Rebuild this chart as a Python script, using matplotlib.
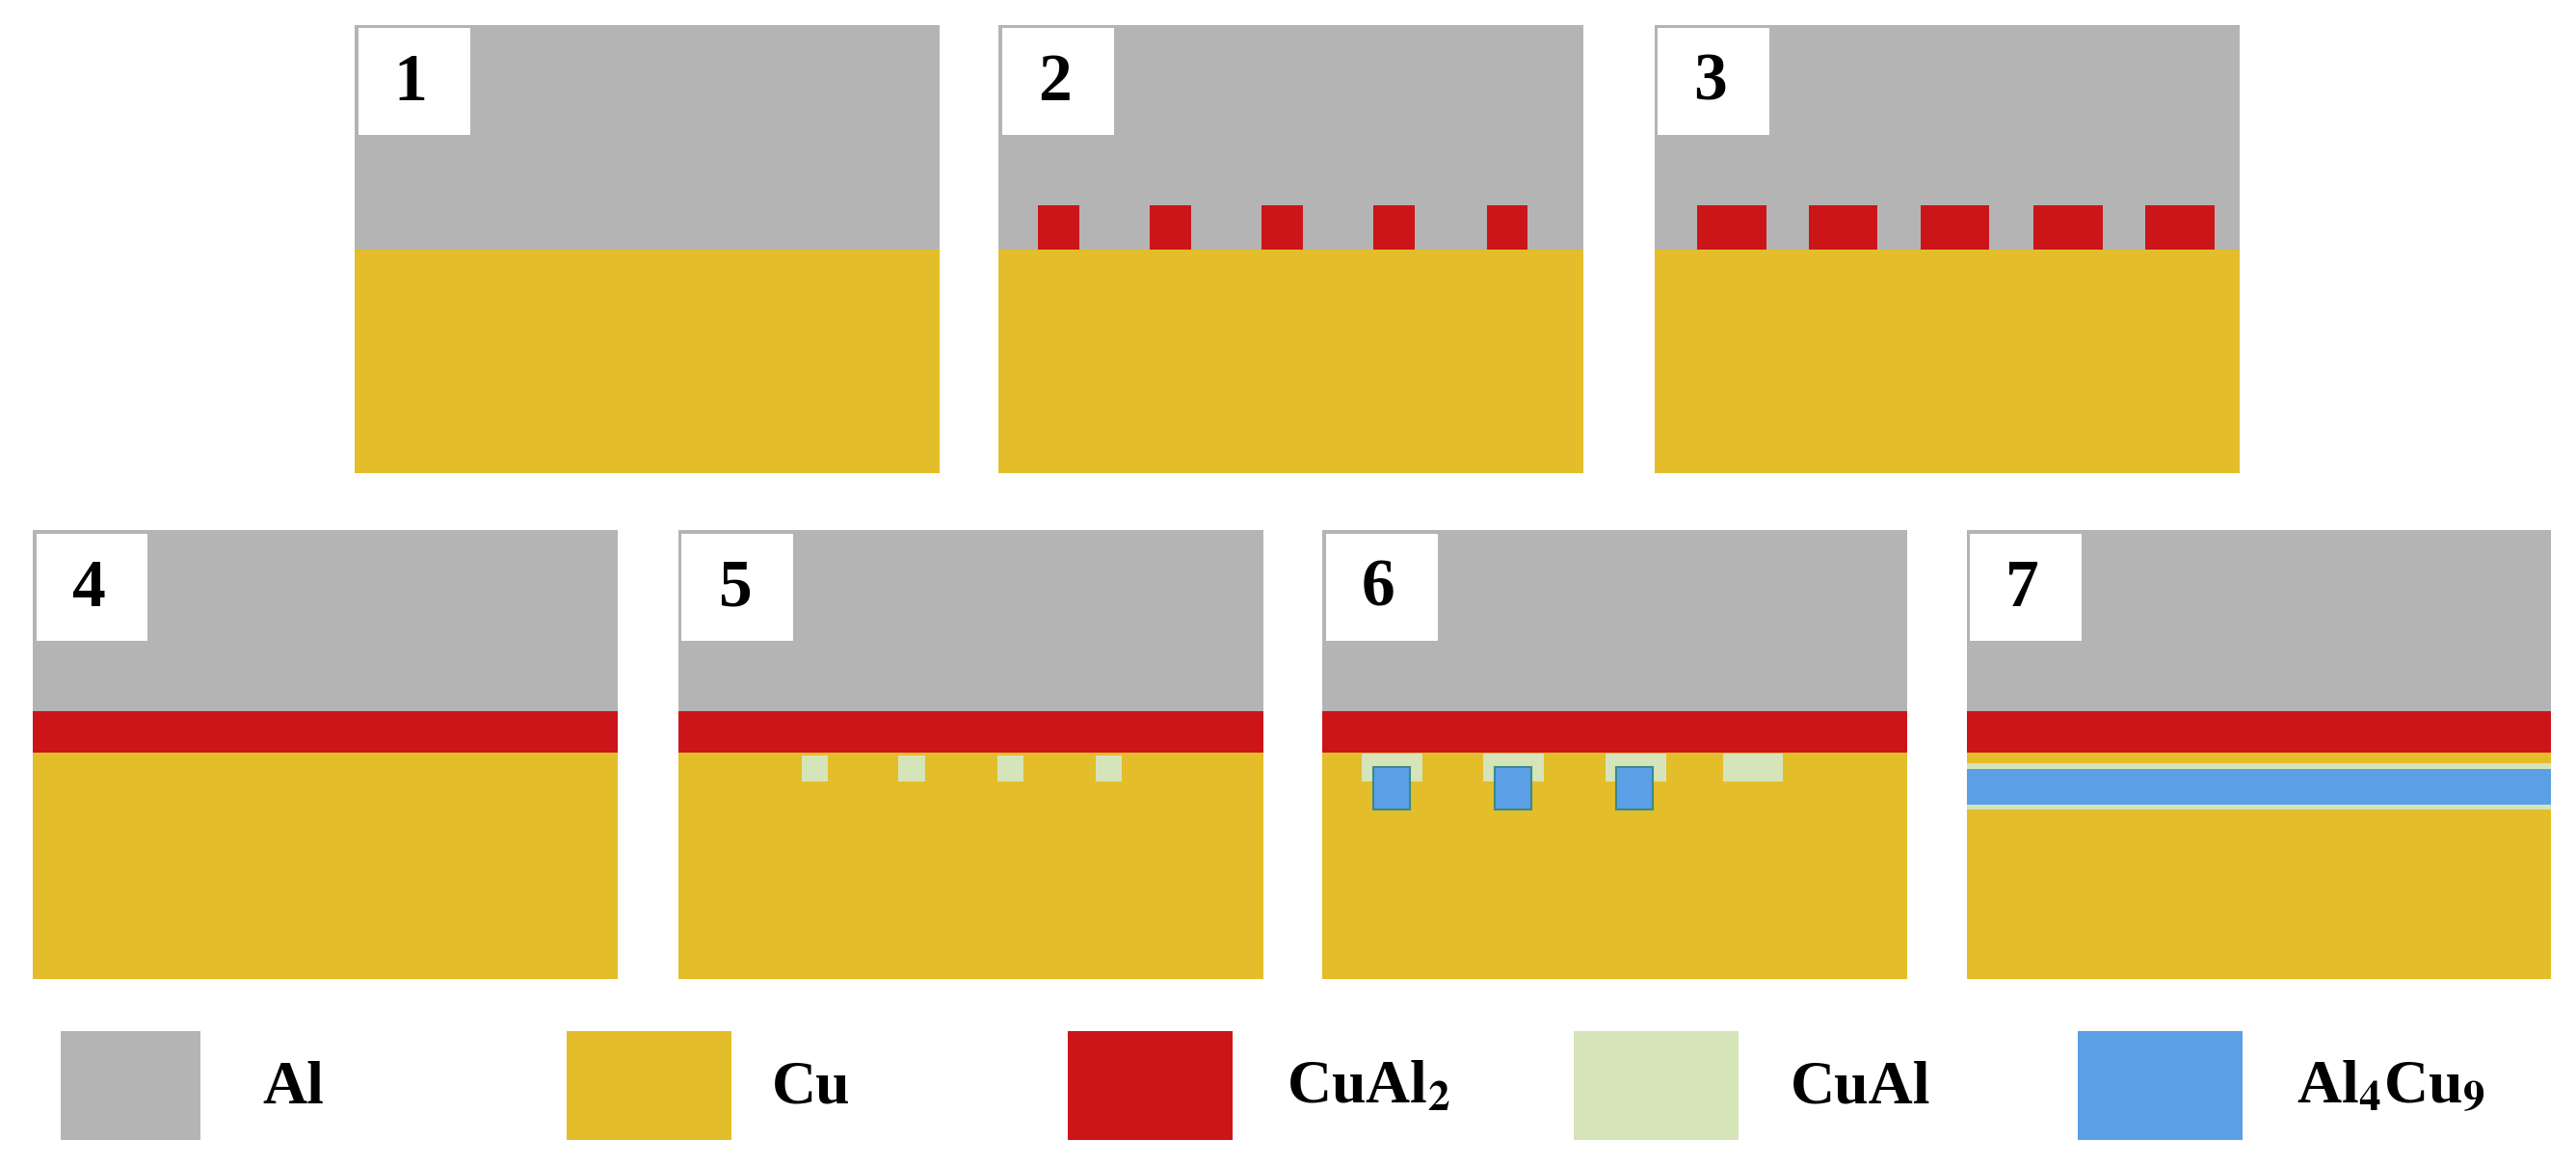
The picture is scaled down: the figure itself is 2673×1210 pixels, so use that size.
import matplotlib.pyplot as plt
from matplotlib.patches import Rectangle

plt.rcParams['font.family'] = ['Liberation Serif', 'DejaVu Serif']
plt.rcParams['mathtext.fontset'] = 'stix'

AL = '#b4b4b4'
CU = '#e4bd2a'
CUAL2 = '#cc1518'
CUAL = '#d6e4ba'
AL4CU9 = '#5b9fe6'

# panel layout (image units, y downwards)
panel_ids = ['1', '2', '3', '4', '5', '6', '7']
panel_x = [216, 608, 1007, 20, 413, 805, 1197]
panel_top = [15, 15, 15, 323, 323, 323, 323]
panel_w = 356
panel_h = 273
interface_y = [152, 152, 152, 458, 458, 458, 458]

# CuAl2 islands in panels 2 and 3
p2_islands = [632, 700, 768, 836, 905]
p3_islands = [1033, 1101, 1169, 1238, 1306]
# CuAl in panel 5
p5_cual = [488, 547, 607, 667]
# CuAl / Al4Cu9 in panel 6
p6_cual = [829, 903, 977]
p6_blue = [836, 910, 984]

legend_names = ['Al', 'Cu', r'CuAl$_\mathbf{2}$', 'CuAl', r'Al$_\mathbf{4}$Cu$_\mathbf{9}$']
legend_colors = [AL, CU, CUAL2, CUAL, AL4CU9]
legend_x = [37, 345, 650, 958, 1265]
legend_text_x = [160, 470, 783, 1090, 1398]

fig = plt.figure(figsize=(26.73, 12.10), dpi=100)
ax = fig.add_axes([0, 0, 1, 1])
ax.set_xlim(0, 1568)
ax.set_ylim(710, 0)
ax.axis('off')


def box(x0, y0, x1, y1, c, **kw):
    ax.add_patch(Rectangle((x0, y0), x1 - x0, y1 - y0, facecolor=c, edgecolor='none', **kw))


for i, pid in enumerate(panel_ids):
    x0, y0, yi = panel_x[i], panel_top[i], interface_y[i]
    x1, y1 = x0 + panel_w, y0 + panel_h
    box(x0, y0, x1, yi, AL)
    box(x0, yi, x1, y1, CU)
    if i >= 3:
        box(x0, 433, x1, yi, CUAL2)
    box(x0 + 2, y0 + 2, x0 + 70, y0 + 67, 'white')
    ax.text(x0 + 34, y0 + 36, pid, fontsize=50, fontweight='bold', ha='center', va='center')

for x in p2_islands:
    box(x, 125, x + 25, 152, CUAL2)
for x in p3_islands:
    box(x, 125, x + 42, 152, CUAL2)
for x in p5_cual:
    box(x, 460, x + 16, 476, CUAL)
for x in p6_cual:
    box(x, 459, x + 37, 476, CUAL)
box(1049, 459, 1085, 476, CUAL)
for x in p6_blue:
    ax.add_patch(Rectangle((x, 467), 22, 26, facecolor=AL4CU9, edgecolor='#3a8a8a', lw=1.5))

# panel 7 continuous Al4Cu9 layer
box(1197, 465, 1553, 493, CUAL)
box(1197, 468, 1553, 490, AL4CU9)

for name, c, x, tx in zip(legend_names, legend_colors, legend_x, legend_text_x):
    box(x, 628, x + 100 if x > 100 else x + 85, 694, c)
    ax.text(tx, 663, name, fontsize=46, fontweight='bold', ha='left', va='center')

fig.savefig('out.png', dpi=100, facecolor='white')
